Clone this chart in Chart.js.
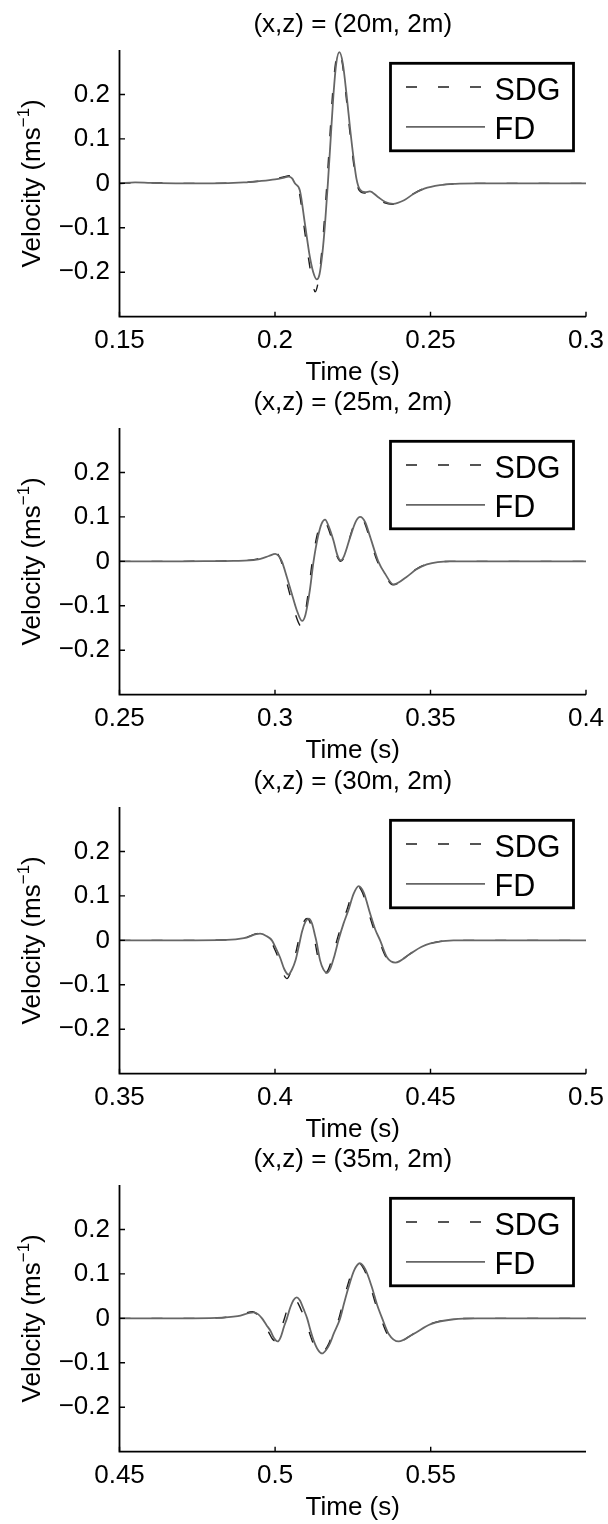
<!DOCTYPE html>
<html><head><meta charset="utf-8">
<script src="https://cdn.jsdelivr.net/npm/chart.js@4.4.0/dist/chart.umd.min.js"></script>
<style>
html,body{margin:0;padding:0;background:#fff;}
#wrap{position:relative;width:608px;height:1524px;overflow:hidden;background:#fff;}
canvas{position:absolute;left:0;}
</style></head><body><div id="wrap"></div>
<script>
// ---------- data ----------
const panelTitles = ['(x,z) = (20m, 2m)', '(x,z) = (25m, 2m)', '(x,z) = (30m, 2m)', '(x,z) = (35m, 2m)'];
const seriesNames = ['SDG', 'FD'];
const xLabel = 'Time (s)';
const yLabelMain = 'Velocity (ms';
const yLabelSup = '\u22121';
const yLabelEnd = ')';

const yRange = [-0.3, 0.3];
const yTicks = [-0.2, -0.1, 0, 0.1, 0.2];
const yTickLabels = ['\u22120.2', '\u22120.1', '0', '0.1', '0.2'];

const xRange1 = [0.15, 0.3];
const xTicks1 = [0.15, 0.2, 0.25, 0.3];
const xTickLabels1 = ['0.15', '0.2', '0.25', '0.3'];
const xRange2 = [0.25, 0.4];
const xTicks2 = [0.25, 0.3, 0.35, 0.4];
const xTickLabels2 = ['0.25', '0.3', '0.35', '0.4'];
const xRange3 = [0.35, 0.5];
const xTicks3 = [0.35, 0.4, 0.45, 0.5];
const xTickLabels3 = ['0.35', '0.4', '0.45', '0.5'];
const xRange4 = [0.45, 0.5999];
const xTicks4 = [0.45, 0.5, 0.55];
const xTickLabels4 = ['0.45', '0.5', '0.55'];

// panel 1
const tFD1 = [0.15,0.155,0.16,0.17,0.18,0.19,0.195,0.2,0.203,0.2043,0.2055,0.2064,0.208,0.2096,0.2112,0.2123,0.2134,0.2143,0.2152,0.2161,0.217,0.2179,0.2188,0.2197,0.2207,0.2218,0.223,0.2242,0.2252,0.2262,0.2273,0.229,0.2305,0.233,0.2355,0.238,0.2415,0.2445,0.248,0.253,0.258,0.265,0.3];
const vFD1 = [0,0.002,0.001,0,0,0.002,0.005,0.009,0.013,0.015,0.011,0,-0.016,-0.09,-0.165,-0.2,-0.216,-0.205,-0.16,-0.09,0,0.1,0.2,0.27,0.295,0.27,0.2,0.12,0.06,0.01,-0.014,-0.02,-0.018,-0.03,-0.042,-0.046,-0.038,-0.024,-0.012,-0.004,-0.001,0,0];
const tSDG1 = [0.15,0.155,0.16,0.17,0.18,0.19,0.195,0.2,0.203,0.2045,0.2056,0.2064,0.2078,0.2093,0.2108,0.212,0.2129,0.2138,0.2148,0.2158,0.2167,0.2176,0.2185,0.2195,0.2205,0.2216,0.2228,0.224,0.225,0.226,0.2271,0.2288,0.2303,0.2328,0.2353,0.2378,0.2413,0.2443,0.2478,0.2528,0.258,0.265,0.3];
const vSDG1 = [0,0.001,0.001,0,0,0.002,0.005,0.01,0.015,0.017,0.012,0,-0.02,-0.095,-0.17,-0.22,-0.244,-0.225,-0.17,-0.09,0,0.1,0.2,0.272,0.298,0.272,0.2,0.12,0.06,0.01,-0.016,-0.022,-0.02,-0.032,-0.044,-0.047,-0.038,-0.024,-0.012,-0.004,-0.001,0,0];

// panel 2
const tFD2 = [0.25,0.27,0.28,0.2867,0.2941,0.298,0.3001,0.3012,0.3022,0.3038,0.3054,0.307,0.3087,0.3098,0.3111,0.3124,0.3138,0.315,0.3161,0.3172,0.3188,0.32,0.3211,0.3222,0.3242,0.326,0.3274,0.329,0.3306,0.3332,0.3354,0.3381,0.3423,0.3455,0.3488,0.3563,0.4];
const vFD2 = [0,0,0.0005,0.001,0.004,0.012,0.017,0.012,0,-0.035,-0.073,-0.11,-0.134,-0.12,-0.07,0,0.055,0.085,0.094,0.08,0.047,0.015,0.002,0.012,0.055,0.09,0.1,0.088,0.055,0,-0.028,-0.052,-0.035,-0.018,-0.007,0,0];
const tSDG2 = [0.25,0.27,0.28,0.2867,0.2941,0.298,0.3001,0.3011,0.302,0.3035,0.305,0.3066,0.3083,0.3094,0.3107,0.312,0.3134,0.3146,0.3157,0.3168,0.3185,0.3199,0.3211,0.3223,0.3241,0.3258,0.3271,0.3287,0.3303,0.3329,0.3351,0.3379,0.3421,0.3453,0.3486,0.3563,0.4];
const vSDG2 = [0,0,0.0005,0.001,0.005,0.014,0.02,0.014,0,-0.04,-0.08,-0.12,-0.145,-0.128,-0.07,0,0.055,0.085,0.093,0.08,0.045,0.012,0,0.01,0.055,0.09,0.1,0.088,0.055,0,-0.028,-0.053,-0.036,-0.018,-0.007,0,0];

// panel 3
const tFD3 = [0.35,0.37,0.3845,0.39,0.3952,0.3972,0.399,0.4003,0.4016,0.403,0.4043,0.4055,0.4066,0.4076,0.4087,0.4098,0.4108,0.4119,0.4129,0.4134,0.4145,0.4156,0.4167,0.4178,0.4191,0.4204,0.422,0.4236,0.4253,0.4269,0.4285,0.4306,0.4322,0.4338,0.436,0.4387,0.4435,0.447,0.45,0.4574,0.5];
const vFD3 = [0,0,0.001,0.005,0.015,0.01,0,-0.018,-0.038,-0.065,-0.077,-0.065,-0.045,-0.015,0.02,0.042,0.049,0.038,0.01,-0.005,-0.045,-0.066,-0.073,-0.063,-0.035,0,0.037,0.068,0.105,0.122,0.108,0.06,0.025,0,-0.038,-0.05,-0.03,-0.015,-0.007,0,0];
const tSDG3 = [0.35,0.37,0.3845,0.39,0.395,0.397,0.3986,0.3999,0.4012,0.4025,0.4038,0.405,0.4061,0.4071,0.4082,0.4093,0.4103,0.4114,0.4124,0.4129,0.414,0.4151,0.4162,0.4173,0.4186,0.4199,0.4215,0.4231,0.4248,0.4265,0.4281,0.4302,0.4318,0.4334,0.4357,0.4385,0.4433,0.4468,0.4498,0.4574,0.5];
const vSDG3 = [0,0,0.001,0.005,0.016,0.01,0,-0.02,-0.042,-0.072,-0.086,-0.072,-0.045,-0.015,0.02,0.042,0.049,0.038,0.01,-0.005,-0.045,-0.066,-0.074,-0.063,-0.035,0,0.037,0.068,0.105,0.122,0.108,0.06,0.025,0,-0.038,-0.051,-0.031,-0.015,-0.007,0,0];

// panel 4
const tFD4 = [0.45,0.47,0.4813,0.488,0.4931,0.4946,0.4958,0.4972,0.4985,0.4997,0.5008,0.5018,0.5028,0.5038,0.5049,0.506,0.507,0.508,0.5092,0.5103,0.5114,0.5124,0.5137,0.5151,0.5165,0.5177,0.5188,0.5209,0.5222,0.5236,0.5254,0.5272,0.529,0.5311,0.5328,0.5344,0.5365,0.5397,0.5445,0.55,0.5574,0.565,0.5999];
const vFD4 = [0,0,0.001,0.005,0.0135,0.009,0,-0.015,-0.028,-0.045,-0.052,-0.042,-0.02,0,0.025,0.042,0.047,0.04,0.02,0,-0.028,-0.05,-0.07,-0.079,-0.07,-0.055,-0.035,0,0.035,0.07,0.108,0.124,0.11,0.07,0.03,0,-0.035,-0.052,-0.035,-0.013,-0.002,0,0];
const tSDG4 = [0.45,0.47,0.4813,0.488,0.4928,0.4942,0.4954,0.4968,0.498,0.4992,0.5003,0.5013,0.5022,0.5031,0.5042,0.5052,0.5062,0.5072,0.5085,0.5097,0.5109,0.512,0.5133,0.5147,0.5161,0.5173,0.5184,0.5205,0.5218,0.5232,0.525,0.5268,0.5286,0.5307,0.5324,0.534,0.5361,0.5394,0.5442,0.5497,0.5572,0.565,0.5999];
const vSDG4 = [0,0,0.001,0.006,0.015,0.009,0,-0.017,-0.032,-0.047,-0.051,-0.04,-0.018,0.002,0.027,0.04,0.043,0.036,0.017,-0.003,-0.03,-0.052,-0.071,-0.08,-0.071,-0.056,-0.036,0,0.036,0.072,0.11,0.125,0.11,0.07,0.03,0,-0.036,-0.053,-0.036,-0.013,-0.002,0,0];

// ---------- rendering ----------
const FONT = '"Liberation Sans", Arial, Helvetica, sans-serif';
const FS = 26;
const LEG_FS = 30.5;
const PLOT_TOP = 50, PLOT_BOTTOM = 316.7, PLOT_LEFT = 119.5, PAD_RIGHT = 22;
Chart.defaults.color = '#000';
Chart.defaults.font.family = FONT;

const panels = [
  {title: panelTitles[0], t1: tSDG1, v1: vSDG1, t2: tFD1, v2: vFD1, xr: xRange1, xt: xTicks1, xl: xTickLabels1},
  {title: panelTitles[1], t1: tSDG2, v1: vSDG2, t2: tFD2, v2: vFD2, xr: xRange2, xt: xTicks2, xl: xTickLabels2},
  {title: panelTitles[2], t1: tSDG3, v1: vSDG3, t2: tFD3, v2: vFD3, xr: xRange3, xt: xTicks3, xl: xTickLabels3},
  {title: panelTitles[3], t1: tSDG4, v1: vSDG4, t2: tFD4, v2: vFD4, xr: xRange4, xt: xTicks4, xl: xTickLabels4}
];

function toPts(t, v) { return t.map((x, i) => ({x: x, y: v[i]})); }

function decorPlugin(title) {
  return {
    id: 'decor',
    afterDraw(chart) {
      const ctx = chart.ctx;
      const ca = chart.chartArea;
      const L = ca.left, R = ca.right, T = ca.top, B = ca.bottom;
      const xs = chart.scales.x, ys = chart.scales.y;
      ctx.save();
      // axes
      ctx.strokeStyle = '#000';
      ctx.lineWidth = 1.8;
      ctx.setLineDash([]);
      ctx.beginPath();
      ctx.moveTo(L, T); ctx.lineTo(L, B); ctx.lineTo(R, B);
      ctx.stroke();
      // inward ticks
      ctx.lineWidth = 1.4;
      ctx.beginPath();
      ys.ticks.forEach(tk => { const p = ys.getPixelForValue(tk.value); ctx.moveTo(L, p); ctx.lineTo(L + 5.5, p); });
      xs.ticks.forEach(tk => { const p = xs.getPixelForValue(tk.value); ctx.moveTo(p, B); ctx.lineTo(p, B - 5); });
      ctx.stroke();
      // title
      ctx.fillStyle = '#000';
      ctx.font = FS + 'px ' + FONT;
      ctx.textAlign = 'center';
      ctx.textBaseline = 'alphabetic';
      const cx = (L + R) / 2;
      ctx.fillText(title, cx, T - 18);
      // x label
      ctx.fillText(xLabel, cx, B + 63);
      // y label with superscript
      ctx.save();
      ctx.translate(40, (T + B) / 2);
      ctx.rotate(-Math.PI / 2);
      ctx.textAlign = 'left';
      const supFS = 17;
      ctx.font = FS + 'px ' + FONT;
      const w1 = ctx.measureText(yLabelMain).width;
      const w3 = ctx.measureText(yLabelEnd).width;
      ctx.font = supFS + 'px ' + FONT;
      const w2 = ctx.measureText(yLabelSup).width;
      let x0 = -(w1 + w2 + w3) / 2;
      ctx.font = FS + 'px ' + FONT;
      ctx.fillText(yLabelMain, x0, 0);
      ctx.font = supFS + 'px ' + FONT;
      ctx.fillText(yLabelSup, x0 + w1, -11);
      ctx.font = FS + 'px ' + FONT;
      ctx.fillText(yLabelEnd, x0 + w1 + w2, 0);
      ctx.restore();
      // legend
      const bx0 = R - 195.5, bx1 = R - 12.5, by0 = T + 13.3, by1 = T + 100.8;
      ctx.fillStyle = '#fff';
      ctx.fillRect(bx0, by0, bx1 - bx0, by1 - by0);
      ctx.strokeStyle = '#000';
      ctx.lineWidth = 2.8;
      ctx.strokeRect(bx0, by0, bx1 - bx0, by1 - by0);
      const rows = [T + 37, T + 76.8];
      [0, 1].forEach((di, k) => {
        const ds = chart.data.datasets[di];
        const ry = rows[k];
        ctx.strokeStyle = ds.borderColor;
        ctx.lineWidth = ds.borderWidth;
        ctx.setLineDash(ds.borderDash || []);
        ctx.beginPath();
        ctx.moveTo(bx0 + 15.5, ry); ctx.lineTo(bx0 + 94.5, ry);
        ctx.stroke();
        ctx.setLineDash([]);
        ctx.fillStyle = '#000';
        ctx.textAlign = 'left';
        ctx.textBaseline = 'alphabetic';
        ctx.font = LEG_FS + 'px ' + FONT;
        ctx.fillText(ds.label, bx0 + 104, ry + 12.6);
      });
      ctx.restore();
    }
  };
}

const wrap = document.getElementById('wrap');
panels.forEach((p, i) => {
  const top = Math.round(i * 378.4);
  const H = (i === 3) ? (1524 - top) : 395;
  const cv = document.createElement('canvas');
  cv.width = 608; cv.height = H;
  cv.style.top = top + 'px';
  cv.style.width = '608px'; cv.style.height = H + 'px';
  wrap.appendChild(cv);
  new Chart(cv.getContext('2d'), {
    type: 'line',
    data: {
      datasets: [
        {label: seriesNames[0], data: toPts(p.t1, p.v1), borderColor: '#1c1c1c', borderWidth: 1.4, borderDash: [11, 21],
         pointRadius: 0, cubicInterpolationMode: 'monotone', fill: false, order: 1},
        {label: seriesNames[1], data: toPts(p.t2, p.v2), borderColor: '#666666', borderWidth: 1.8,
         pointRadius: 0, cubicInterpolationMode: 'monotone', fill: false, order: 0}
      ]
    },
    options: {
      responsive: false,
      animation: false,
      devicePixelRatio: 1,
      layout: {padding: {top: PLOT_TOP, left: 0, right: PAD_RIGHT, bottom: 0}},
      plugins: {legend: {display: false}, tooltip: {enabled: false}, title: {display: false}},
      scales: {
        x: {
          type: 'linear', min: p.xr[0], max: p.xr[1],
          afterBuildTicks: s => { s.ticks = p.xt.map(v => ({value: v})); },
          afterFit: s => { s.height = H - PLOT_BOTTOM; s.paddingLeft = 0; s.paddingRight = 0; },
          ticks: {autoSkip: false, maxRotation: 0, minRotation: 0, padding: 8.5, color: '#000',
                  font: {family: FONT, size: FS}, callback: (v, idx) => p.xl[idx]},
          grid: {display: false, drawTicks: false},
          border: {display: false}
        },
        y: {
          type: 'linear', min: yRange[0], max: yRange[1],
          afterBuildTicks: s => { s.ticks = yTicks.map(v => ({value: v})); },
          afterFit: s => { s.width = PLOT_LEFT; s.paddingTop = 0; s.paddingBottom = 0; },
          ticks: {padding: 9.5, color: '#000', font: {family: FONT, size: FS}, callback: (v, idx) => yTickLabels[idx]},
          grid: {display: false, drawTicks: false},
          border: {display: false}
        }
      }
    },
    plugins: [decorPlugin(p.title)]
  });
});
</script>
</body></html>
